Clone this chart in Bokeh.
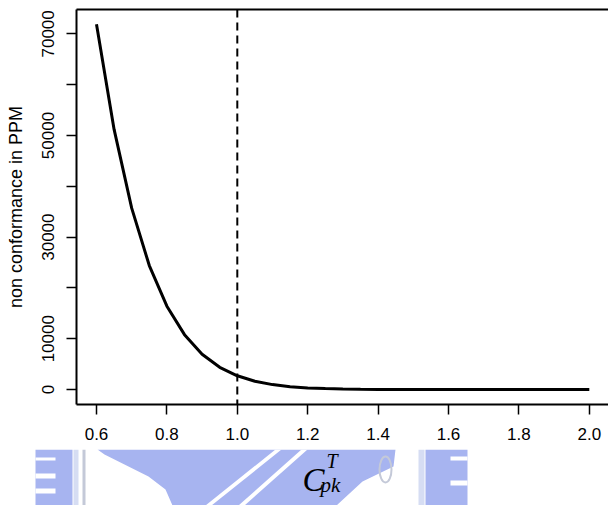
from bokeh.plotting import figure
from bokeh.models import (Range1d, FixedTicker, NumeralTickFormatter, LinearAxis,
                          Span)
from bokeh.layouts import column
from bokeh.core.properties import value
from bokeh.embed import file_html
from bokeh.resources import INLINE

# Two-sided non-conformance (PPM) against the process capability index
cpk = [0.60, 0.65, 0.70, 0.75, 0.80, 0.85, 0.90, 0.95, 1.00, 1.05,
       1.10, 1.15, 1.20, 1.25, 1.30, 1.35, 1.40, 1.45, 1.50, 1.55,
       1.60, 1.65, 1.70, 1.75, 1.80, 1.85, 1.90, 1.95, 2.00]
ppm = [71900, 51200, 35700, 24400, 16400, 10800, 6930, 4370, 2700, 1630,
       967, 563, 318, 177, 96, 51, 27, 14, 7, 3,
       2, 1, 0, 0, 0, 0, 0, 0, 0]
cpk_reference = 1.0

x_ticks = [0.6, 0.8, 1.0, 1.2, 1.4, 1.6, 1.8, 2.0]
y_ticks = [0, 10000, 20000, 30000, 40000, 50000, 60000, 70000]
y_hidden_labels = [20000, 40000, 60000]

AXIS_FONT = "Liberation Sans"
MATH_FONT = "Liberation Serif"

p = figure(width=608, height=449, output_backend="svg", toolbar_location=None,
           x_range=Range1d(0.5432, 2.0545), y_range=Range1d(-2950, 74800),
           min_border_left=76, min_border_right=0, min_border_top=9,
           min_border_bottom=45)
p.frame_align = False
p.grid.visible = False
p.outline_line_color = None
p.background_fill_color = "white"
p.border_fill_color = "white"

p.line(cpk, ppm, line_width=3, line_color="black")
p.add_layout(Span(location=cpk_reference, dimension="height", line_color="black",
                  line_width=2, line_dash="8 5"))

for ax in (p.xaxis[0], p.yaxis[0]):
    ax.axis_line_width = 2
    ax.axis_line_color = "black"
    ax.major_tick_line_width = 1.5
    ax.major_tick_line_color = "black"
    ax.major_tick_out = 10
    ax.major_tick_in = 0
    ax.minor_tick_out = 0
    ax.minor_tick_in = 0
    ax.major_label_text_font = AXIS_FONT
    ax.major_label_text_font_size = "17px"
    ax.major_label_text_color = "black"

p.xaxis.ticker = FixedTicker(ticks=x_ticks)
p.xaxis.formatter = NumeralTickFormatter(format="0.0")
p.xaxis.major_label_standoff = 13

p.yaxis.ticker = FixedTicker(ticks=y_ticks)
p.yaxis.formatter = NumeralTickFormatter(format="0")
p.yaxis.major_label_overrides = {v: "" for v in y_hidden_labels}
p.yaxis.major_label_orientation = "vertical"
p.yaxis.major_label_standoff = 12
p.yaxis.axis_label = "non conformance in PPM"
p.yaxis.axis_label_text_font = AXIS_FONT
p.yaxis.axis_label_text_font_size = "18px"
p.yaxis.axis_label_text_font_style = "normal"
p.yaxis.axis_label_text_color = "black"
p.yaxis.axis_label_standoff = 14

# top edge of the box (no right edge)
top = LinearAxis(ticker=FixedTicker(ticks=[]), axis_line_width=2,
                 axis_line_color="black", major_tick_out=0, major_tick_in=0,
                 minor_tick_out=0, minor_tick_in=0, major_label_standoff=0,
                 major_label_text_font_size="0px")
p.add_layout(top, "above")

# strip below the chart: faint logo watermark and the x-axis title,
# drawn in pixel units of the strip (y grows downwards)
s = figure(width=608, height=56, output_backend="svg", toolbar_location=None,
           x_range=Range1d(0, 608), y_range=Range1d(56, 0),
           min_border=0, min_border_left=0, min_border_right=0,
           min_border_top=0, min_border_bottom=0)
s.frame_align = False
s.grid.visible = False
s.axis.visible = False
s.outline_line_color = None
s.background_fill_color = "white"
s.border_fill_color = "white"

blue = "#a7b4f0"
pale = "#d6ddf3"
grey = "#c4c9d8"

# big rounded emblem
s.patch([97, 395, 393, 362, 336, 172, 165, 148, 122, 104],
        [0, 0, 17, 32, 56, 56, 40, 27, 14, 5],
        fill_color=blue, line_color=None)
# white diagonal stripes across the emblem
s.patches([[205, 211, 281, 275], [238, 244, 307, 301]],
          [[56, 56, 0, 0], [56, 56, 0, 0]],
          fill_color="white", line_color=None)
# comb shape at the left
s.quad(left=[35], right=[72], top=[0], bottom=[56], fill_color=blue, line_color=None)
s.quad(left=[35, 35, 35], right=[55, 55, 55], top=[8, 24, 39], bottom=[11, 29, 44],
       fill_color="white", line_color=None)
s.quad(left=[73], right=[78], top=[0], bottom=[56], fill_color=pale, line_color=None)
s.quad(left=[82], right=[85], top=[0], bottom=[56], fill_color=grey, line_color=None)
# E shape at the right
s.quad(left=[418], right=[424], top=[0], bottom=[56], fill_color=pale, line_color=None)
s.quad(left=[425], right=[467], top=[0], bottom=[56], fill_color=blue, line_color=None)
s.quad(left=[450, 450], right=[467, 467], top=[7, 31], bottom=[11, 36],
       fill_color="white", line_color=None)
s.ellipse(x=[385], y=[20], width=[12], height=[26], fill_color=None,
          line_color=grey, line_width=2)

# x-axis title C_pk^T
s.text(x=[302], y=[30], text=["C"], text_font=value(MATH_FONT),
       text_font_style="italic", text_font_size="33px", text_color="black",
       text_baseline="alphabetic", text_align="left")
s.text(x=[326], y=[11], text=["T"], text_font=value(MATH_FONT),
       text_font_style="italic", text_font_size="20px", text_color="black",
       text_baseline="alphabetic", text_align="left")
s.text(x=[320], y=[35], text=["pk"], text_font=value(MATH_FONT),
       text_font_style="italic", text_font_size="21px", text_color="black",
       text_baseline="alphabetic", text_align="left")

layout = column(p, s, spacing=0)
open("out.html", "w").write(file_html(layout, INLINE))
